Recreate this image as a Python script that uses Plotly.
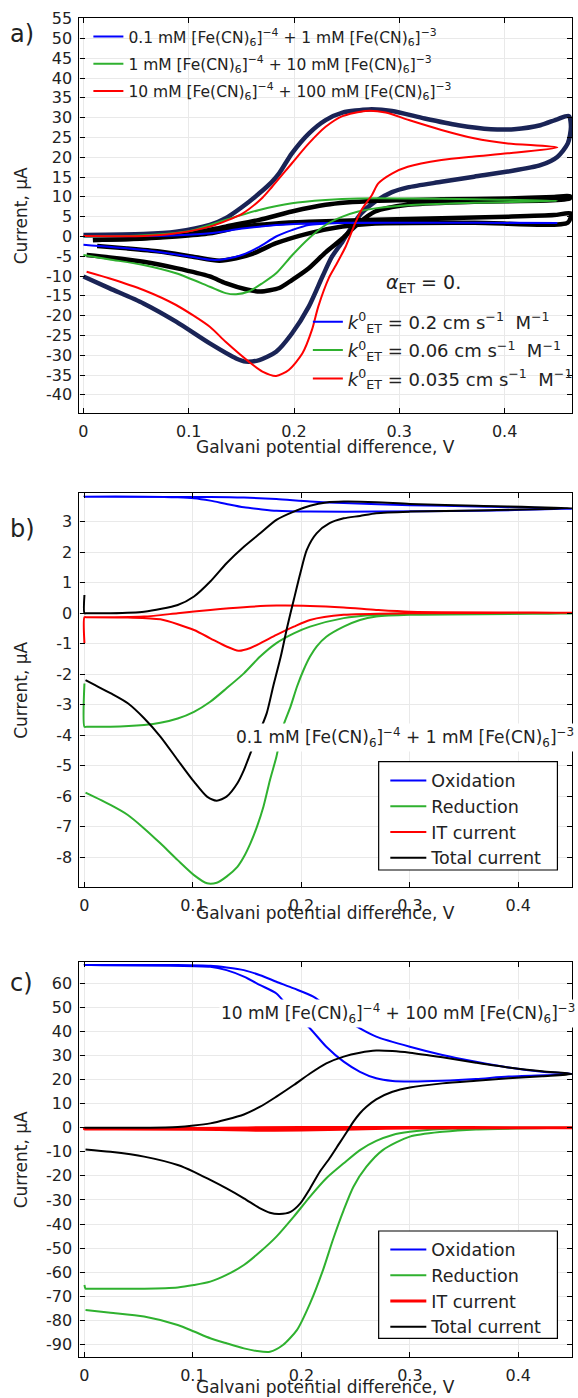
import plotly.graph_objects as go

W, H = 578, 1398
BLUE, GREEN, RED, BLACK, NAVY = '#0000ff', '#2fb12f', '#ff0000', '#000000', '#1a2456'
FONT = 'DejaVu Sans'

# ---------------- Panel a data ----------------
# experimental 10 mM (navy)
a_exp10_x = [0, 0.057, 0.088, 0.12, 0.135, 0.151, 0.167, 0.179, 0.186, 0.198, 0.214, 0.230, 0.246, 0.271, 0.293, 0.324,
             0.356, 0.387, 0.409, 0.434, 0.450, 0.461,
             0.463, 0.460, 0.450, 0.434, 0.403, 0.371, 0.340, 0.308, 0.293, 0.277, 0.264, 0.255, 0.246, 0.236, 0.227,
             0.214, 0.198, 0.183, 0.167, 0.154, 0.145, 0.120, 0.088, 0.057, 0.025, 0.0]
a_exp10_y = [0.4, 0.6, 1.2, 2.9, 4.6, 7.5, 10.9, 13.8, 16.0, 21.0, 26.0, 29.4, 31.3, 32.1, 31.7, 29.8,
             28.1, 27.1, 27.1, 28.1, 29.6, 30.4,
             27.7, 23.5, 20.1, 18.0, 16.4, 15.1, 13.8, 12.4, 11.2, 8.8, 5.9, 2.5, -1.3, -5.1, -10.1,
             -17.7, -24.5, -29.1, -31.2, -31.6, -30.8, -27.0, -21.5, -16.9, -13.1, -10.1]
# experimental 1 mM (black)
a_exp1_x = [0.009, 0.06, 0.1, 0.135, 0.167, 0.198, 0.230, 0.277, 0.34, 0.403, 0.447, 0.462,
            0.462, 0.371, 0.308, 0.277, 0.261, 0.246, 0.230, 0.214, 0.198, 0.186, 0.168, 0.155, 0.135, 0.12,
            0.088, 0.057, 0.025, 0.003]
a_exp1_y = [-0.9, -0.4, 0.6, 2.5, 4.2, 6.3, 8.0, 9.0, 9.4, 9.6, 10.0, 10.2,
            9.6, 8.8, 8.0, 6.3, 3.3, -0.5, -4.0, -8.0, -11.0, -13.0, -13.9, -13.4, -11.8, -10.1,
            -8.0, -6.4, -5.3, -4.7]
# experimental 0.1 mM (black)
a_exp01_x = [0.009, 0.057, 0.088, 0.12, 0.151, 0.183, 0.214, 0.277, 0.340, 0.403, 0.447, 0.463,
             0.46, 0.371, 0.277, 0.246, 0.214, 0.183, 0.161, 0.145, 0.129, 0.104, 0.072, 0.041, 0.013]
a_exp01_y = [-0.9, -0.5, 0.0, 0.8, 2.5, 3.3, 3.7, 4.2, 4.6, 5.0, 5.4, 5.8,
             3.5, 3.5, 3.3, 2.5, 0.8, -1.7, -4.3, -5.5, -6.1, -5.1, -3.8, -3.0, -2.4]
# simulation 10 mM (red)
a_sim10_x = [0, 0.057, 0.088, 0.12, 0.151, 0.170, 0.179, 0.198, 0.214, 0.230, 0.246, 0.268, 0.287, 0.309, 0.340,
             0.371, 0.403, 0.45,
             0.403, 0.371, 0.340, 0.308, 0.293, 0.280, 0.274, 0.264, 0.258, 0.249, 0.239, 0.233, 0.223, 0.217,
             0.208, 0.195, 0.183, 0.170, 0.157, 0.135, 0.12, 0.088, 0.057, 0.025, 0.003]
a_sim10_y = [0.1, 0.1, 0.8, 2.5, 5.8, 9.8, 12.5, 18.5, 23.5, 27.7, 30.4, 31.7, 31.3, 29.4, 26.9,
             24.8, 23.5, 22.5,
             21.0, 20.2, 19.3, 17.6, 15.9, 13.4, 10.5, 6.7, 3.3, -2.6, -7.6, -10.5, -17.7, -23.6,
             -29.5, -33.7, -35.2, -34.1, -31.6, -26.6, -22.8, -17.3, -13.5, -10.6, -8.9]
# simulation 1 mM (green)
a_sim1_x = [0, 0.05, 0.08, 0.104, 0.135, 0.167, 0.198, 0.230, 0.261, 0.308, 0.371, 0.45,
            0.371, 0.308, 0.277, 0.261, 0.246, 0.230, 0.214, 0.198, 0.183, 0.170, 0.157, 0.145, 0.135, 0.12,
            0.088, 0.057, 0.025, 0.0]
a_sim1_y = [0, 0.2, 0.7, 1.6, 4.2, 6.7, 8.4, 9.2, 9.6, 9.6, 9.4, 9.0,
            8.5, 7.9, 7.1, 6.3, 5.0, 2.9, -0.5, -4.8, -9.3, -11.8, -13.9, -14.6, -14.3, -12.7,
            -9.3, -7.2, -5.8, -4.7]
# simulation 0.1 mM (blue)
a_sim01_x = [0, 0.06, 0.09, 0.12, 0.151, 0.183, 0.214, 0.25, 0.3, 0.45,
             0.3, 0.246, 0.214, 0.198, 0.183, 0.167, 0.151, 0.135, 0.122, 0.104, 0.072, 0.041, 0.0]
a_sim01_y = [0, 0.1, 0.3, 0.8, 2.0, 2.9, 3.3, 3.45, 3.5, 3.4,
             3.5, 3.4, 2.9, 1.6, 0.0, -2.6, -4.6, -5.7, -5.9, -5.2, -3.9, -3.0, -2.1]

a_legend_names = ['0.1 mM [Fe(CN)<sub>6</sub>]<sup>\u22124</sup> + 1 mM [Fe(CN)<sub>6</sub>]<sup>\u22123</sup>',
                  '1 mM [Fe(CN)<sub>6</sub>]<sup>\u22124</sup> + 10 mM [Fe(CN)<sub>6</sub>]<sup>\u22123</sup>',
                  '10 mM [Fe(CN)<sub>6</sub>]<sup>\u22124</sup> + 100 mM [Fe(CN)<sub>6</sub>]<sup>\u22123</sup>']
k_names = ['<i>k</i><sup>0</sup><sub>ET</sub> = 0.2 cm s<sup>\u22121</sup>  M<sup>\u22121</sup>',
           '<i>k</i><sup>0</sup><sub>ET</sub> = 0.06 cm s<sup>\u22121</sup>  M<sup>\u22121</sup>',
           '<i>k</i><sup>0</sup><sub>ET</sub> = 0.035 cm s<sup>\u22121</sup>  M<sup>\u22121</sup>']

# ---------------- Panel b data ----------------
b_ox_x = [0, 0.055, 0.086, 0.101, 0.116, 0.131, 0.147, 0.162, 0.177, 0.208, 0.269, 0.361, 0.45,
          0.361, 0.300, 0.239, 0.208, 0.177, 0.147, 0.116, 0.0]
b_ox_y = [3.82, 3.82, 3.80, 3.77, 3.69, 3.58, 3.47, 3.41, 3.36, 3.33, 3.33, 3.36, 3.42,
          3.50, 3.54, 3.61, 3.66, 3.74, 3.79, 3.81, 3.82]
b_red_x = [0, 0, 0.002, 0.024, 0.055, 0.070, 0.086, 0.101, 0.116, 0.131, 0.147, 0.162, 0.177, 0.193, 0.208, 0.239,
           0.269, 0.300, 0.45,
           0.300, 0.269, 0.254, 0.239, 0.223, 0.214, 0.208, 0.202, 0.196, 0.190, 0.183, 0.177, 0.171, 0.165, 0.159,
           0.153, 0.147, 0.141, 0.131, 0.122, 0.113, 0.101, 0.086, 0.070, 0.055, 0.040, 0.024, 0.001]
b_red_y = [-2.3, -3.72, -3.72, -3.72, -3.66, -3.59, -3.45, -3.23, -2.9, -2.46, -1.97, -1.42, -0.98, -0.66, -0.44, -0.16,
           -0.05, 0, -0.01,
           -0.05, -0.11, -0.22, -0.44, -0.77, -1.09, -1.42, -1.86, -2.4, -3.06, -3.72, -4.7, -5.47, -6.34, -7.0,
           -7.54, -7.98, -8.31, -8.63, -8.83, -8.85, -8.58, -8.09, -7.54, -7.05, -6.61, -6.28, -5.88]
b_it_x = [0, 0, 0.002, 0.024, 0.055, 0.086, 0.116, 0.147, 0.177, 0.208, 0.239, 0.269, 0.300, 0.45,
          0.300, 0.239, 0.208, 0.193, 0.177, 0.165, 0.153, 0.142, 0.131, 0.116, 0.101, 0.070, 0.040, 0.001]
b_it_y = [-0.98, -0.13, -0.13, -0.13, -0.11, 0, 0.11, 0.2, 0.25, 0.24, 0.19, 0.11, 0.05, 0.02,
          0.0, -0.05, -0.22, -0.44, -0.71, -0.93, -1.14, -1.23, -1.09, -0.82, -0.55, -0.2, -0.14, -0.13]
b_tot_x = [0, 0, 0.002, 0.024, 0.055, 0.086, 0.101, 0.116, 0.131, 0.147, 0.162, 0.177, 0.193, 0.208, 0.223, 0.239,
           0.269, 0.300, 0.361, 0.45,
           0.361, 0.300, 0.269, 0.254, 0.239, 0.226, 0.214, 0.205, 0.199, 0.193, 0.187, 0.181, 0.174, 0.168, 0.160,
           0.153, 0.147, 0.141, 0.131, 0.122, 0.113, 0.101, 0.086, 0.070, 0.055, 0.040, 0.024, 0.001]
b_tot_y = [0.6, 0, 0, 0, 0.05, 0.27, 0.55, 1.04, 1.64, 2.18, 2.62, 3.06, 3.33, 3.52, 3.63, 3.66,
           3.64, 3.58, 3.52, 3.44,
           3.37, 3.33, 3.28, 3.19, 3.11, 2.95, 2.62, 2.08, 1.31, 0.44, -0.44, -1.42, -2.4, -3.28, -4.0,
           -4.59, -5.14, -5.57, -6.01, -6.14, -6.01, -5.52, -4.81, -4.04, -3.44, -2.95, -2.62, -2.19]

# ---------------- Panel c data ----------------
c_ox_x = [0, 0.086, 0.116, 0.131, 0.147, 0.162, 0.177, 0.193, 0.211, 0.232, 0.254, 0.269, 0.300, 0.330, 0.361, 0.391,
          0.422, 0.45,
          0.391, 0.361, 0.330, 0.300, 0.284, 0.269, 0.254, 0.239, 0.223, 0.208, 0.19, 0.177, 0.162, 0.147, 0.131,
          0.116, 0.0]
c_ox_y = [67.5, 67.5, 67.2, 66.5, 65.4, 63.3, 60.6, 57.8, 54.4, 47.5, 41.2, 37.8, 33.6, 30.2, 27.4, 25.0,
          23.2, 22.3,
          21.2, 20.2, 19.5, 19.2, 19.4, 20.5, 23.2, 27.4, 33.6, 41.2, 49.0, 55.7, 59.2, 62.7, 65.4,
          66.8, 67.5]
c_red_x = [0, 0.001, 0.004, 0.055, 0.086, 0.101, 0.116, 0.131, 0.147, 0.162, 0.177, 0.193, 0.208, 0.223, 0.239, 0.254,
           0.269, 0.284, 0.3, 0.33, 0.361, 0.45,
           0.361, 0.33, 0.3, 0.275, 0.260, 0.248, 0.239, 0.229, 0.220, 0.208, 0.196, 0.183, 0.171, 0.159, 0.147,
           0.131, 0.116, 0.101, 0.086, 0.055, 0.024, 0.001]
c_red_y = [-65.3, -66.8, -66.8, -66.8, -66.3, -65.3, -63.9, -61.1, -57.0, -51.5, -45.2, -36.9, -28.6, -21.0, -14.8,
           -9.3, -5.5, -3.0, -1.7, -0.5, -0.1, 0,
           -0.7, -1.7, -3.7, -9.3, -16.2, -24.5, -34.2, -46.6, -59.0, -72.9, -83.9, -90.2, -93.0, -92.7, -91.6,
           -89.5, -87.4, -84.6, -81.9, -78.4, -76.8, -75.7]
c_it_x = [0, 0.1, 0.2, 0.3, 0.45, 0.3, 0.25, 0.2, 0.15, 0.1, 0.0]
c_it_y = [-0.5, -0.3, 0.1, 0.05, 0, -0.1, -0.5, -1.0, -1.0, -0.6, -0.5]
c_tot_x = [0, 0.055, 0.086, 0.101, 0.116, 0.131, 0.147, 0.162, 0.177, 0.193, 0.208, 0.223, 0.239, 0.254, 0.269, 0.284,
           0.3, 0.33, 0.361, 0.391, 0.422, 0.45,
           0.422, 0.391, 0.361, 0.33, 0.3, 0.284, 0.269, 0.260, 0.254, 0.248, 0.242, 0.235, 0.226, 0.217, 0.208,
           0.199, 0.190, 0.180, 0.171, 0.162, 0.147, 0.131, 0.116, 0.101, 0.086, 0.055, 0.024, 0.001]
c_tot_y = [0, 0, 0.3, 0.9, 1.8, 3.4, 5.5, 8.7, 12.9, 17.7, 22.5, 26.7, 29.5, 31.1, 32.0, 31.8,
           31.1, 29.2, 27.0, 25.0, 23.4, 22.3,
           21.4, 20.5, 19.5, 18.4, 16.7, 14.9, 11.8, 8.7, 6.0, 2.5, -1.7, -6.5, -12.7, -18.3, -25.2,
           -31.4, -34.9, -35.8, -35.3, -33.5, -29.3, -25.2, -21.7, -18.3, -15.5, -12.0, -10.0, -9.0]

bc_names = ['Oxidation', 'Reduction', 'IT current', 'Total current']

# ticks
x_tickvals = [0, 0.1, 0.2, 0.3, 0.4]
x_ticktext = ['0', '0.1', '0.2', '0.3', '0.4']
a_tickvals = [-40, -35, -30, -25, -20, -15, -10, -5, 0, 5, 10, 15, 20, 25, 30, 35, 40, 45, 50, 55]
a_ticktext = ['-40', '-35', '-30', '-25', '-20', '-15', '-10', '-5', '0', '5', '10', '15', '20', '25', '30',
              '35', '40', '45', '50', '55']
b_tickvals = [-8, -7, -6, -5, -4, -3, -2, -1, 0, 1, 2, 3]
b_ticktext = ['-8', '-7', '-6', '-5', '-4', '-3', '-2', '-1', '0', '1', '2', '3']
c_tickvals = [-90, -80, -70, -60, -50, -40, -30, -20, -10, 0, 10, 20, 30, 40, 50, 60]
c_ticktext = ['-90', '-80', '-70', '-60', '-50', '-40', '-30', '-20', '-10', '0', '10', '20', '30', '40', '50', '60']


def px(xp):
    return xp / W


def py(yp):
    return 1 - yp / H


fig = go.Figure()


def add(x, y, color, width, xa, ya, name=None, legend=None, group=None, show=False):
    fig.add_trace(go.Scatter(x=x, y=y, mode='lines', line=dict(color=color, width=width, shape='spline', smoothing=0.7),
                             xaxis=xa, yaxis=ya, name=name, showlegend=show,
                             legend=legend if legend else 'legend', legendgroup=group, hoverinfo='skip'))


# panel a: experimental first
add(a_exp10_x, a_exp10_y, NAVY, 4.5, 'x', 'y')
add(a_exp1_x, a_exp1_y, BLACK, 4.5, 'x', 'y')
add(a_exp01_x, a_exp01_y, BLACK, 4.5, 'x', 'y')
add(a_sim01_x, a_sim01_y, BLUE, 2, 'x', 'y', a_legend_names[0], 'legend', 'c1', True)
add(a_sim1_x, a_sim1_y, GREEN, 2, 'x', 'y', a_legend_names[1], 'legend', 'c2', True)
add(a_sim10_x, a_sim10_y, RED, 2, 'x', 'y', a_legend_names[2], 'legend', 'c3', True)
for nm, col, g in zip(k_names, [BLUE, GREEN, RED], ['k1', 'k2', 'k3']):
    fig.add_trace(go.Scatter(x=[None], y=[None], mode='lines', line=dict(color=col, width=2), name=nm,
                             xaxis='x', yaxis='y', legend='legend2', legendgroup=g, showlegend=True))

# panel b
add(b_ox_x, b_ox_y, BLUE, 2, 'x2', 'y2', bc_names[0], 'legend3', None, True)
add(b_red_x, b_red_y, GREEN, 2, 'x2', 'y2', bc_names[1], 'legend3', None, True)
add(b_it_x, b_it_y, RED, 2, 'x2', 'y2', bc_names[2], 'legend3', None, True)
add(b_tot_x, b_tot_y, BLACK, 2, 'x2', 'y2', bc_names[3], 'legend3', None, True)
# panel c
add(c_ox_x, c_ox_y, BLUE, 2, 'x3', 'y3', bc_names[0], 'legend4', None, True)
add(c_red_x, c_red_y, GREEN, 2, 'x3', 'y3', bc_names[1], 'legend4', None, True)
add(c_it_x, c_it_y, RED, 3, 'x3', 'y3', bc_names[2], 'legend4', None, True)
add(c_tot_x, c_tot_y, BLACK, 2, 'x3', 'y3', bc_names[3], 'legend4', None, True)

xdom = [px(80), px(576)]
common = dict(showline=True, linecolor='black', linewidth=1.2, mirror='ticks', ticks='inside', ticklen=5,
              tickcolor='black', showgrid=True, gridcolor='#e9e9e9', gridwidth=1, zeroline=False,
              tickfont=dict(family=FONT, size=16, color='#222'), automargin=False, ticklabelstandoff=3)

fig.update_layout(
    width=W, height=H, margin=dict(l=0, r=0, t=0, b=0), paper_bgcolor='white', plot_bgcolor='white',
    font=dict(family=FONT, color='#222'),
    xaxis=dict(domain=xdom, range=[-0.0038, 0.464], anchor='y', tickvals=x_tickvals, ticktext=x_ticktext, **common),
    yaxis=dict(domain=[py(413.3), py(18.3)], range=[-44.65, 55.1], anchor='x', tickvals=a_tickvals,
               ticktext=a_ticktext, **common),
    xaxis2=dict(domain=xdom, range=[-0.0046, 0.4495], anchor='y2', tickvals=x_tickvals, ticktext=x_ticktext, **common),
    yaxis2=dict(domain=[py(887.3), py(492.7)], range=[-8.98, 3.95], anchor='x2', tickvals=b_tickvals,
                ticktext=b_ticktext, **common),
    xaxis3=dict(domain=xdom, range=[-0.0046, 0.4495], anchor='y3', tickvals=x_tickvals, ticktext=x_ticktext, **common),
    yaxis3=dict(domain=[py(1357.3), py(961.7)], range=[-95.3, 68.9], anchor='x3', tickvals=c_tickvals,
                ticktext=c_ticktext, **common),
    legend=dict(x=px(89), y=py(20), xanchor='left', yanchor='top', bgcolor='rgba(0,0,0,0)', borderwidth=0,
                font=dict(family=FONT, size=15.5, color='#222'), tracegroupgap=4, itemwidth=30),
    legend2=dict(x=px(310), y=py(303.5), xanchor='left', yanchor='top', bgcolor='rgba(0,0,0,0)', borderwidth=0,
                 font=dict(family=FONT, size=18, color='#222'), tracegroupgap=2, itemwidth=30),
    legend3=dict(x=px(388), y=py(762.5), xanchor='left', yanchor='top', bgcolor='rgba(0,0,0,0)', borderwidth=0,
                 font=dict(family=FONT, size=17.5, color='#222'), itemwidth=36),
    legend4=dict(x=px(388), y=py(1231.5), xanchor='left', yanchor='top', bgcolor='rgba(0,0,0,0)', borderwidth=0,
                 font=dict(family=FONT, size=17.5, color='#222'), itemwidth=36),
)

# legend frames for panels b and c
shapes = []
for top, bot in [(761.7, 870), (1231, 1338.3)]:
    shapes.append(dict(type='rect', xref='paper', yref='paper', x0=px(381.3), x1=px(561.3), y0=py(bot), y1=py(top),
                       fillcolor='white', line=dict(color='black', width=1.2), layer='above'))
fig.update_layout(shapes=shapes)

ann = []
for lab, yy in [('a)', 34), ('b)', 529), ('c)', 983)]:
    ann.append(dict(text=lab, x=px(8), y=py(yy), xref='paper', yref='paper', xanchor='left', yanchor='middle',
                    showarrow=False, font=dict(family=FONT, size=24, color='#222')))
for yy in [215.5, 690, 1159.5]:
    ann.append(dict(text='Current, \u03bcA', x=px(21), y=py(yy), xref='paper', yref='paper', xanchor='center',
                    yanchor='middle', textangle=-90, showarrow=False, font=dict(family=FONT, size=17, color='#222')))
for yy in [447, 913, 1387]:
    ann.append(dict(text='Galvani potential difference, V', x=px(328), y=py(yy), xref='paper', yref='paper',
                    xanchor='center', yanchor='middle', showarrow=False, font=dict(family=FONT, size=17, color='#222')))
ann.append(dict(text='<i>\u03b1</i><sub>ET</sub> = 0.', x=px(387), y=py(283), xref='paper', yref='paper',
                xanchor='left', yanchor='middle', showarrow=False, font=dict(family=FONT, size=19, color='#222')))
ann.append(dict(text='0.1 mM [Fe(CN)<sub>6</sub>]<sup>\u22124</sup> + 1 mM [Fe(CN)<sub>6</sub>]<sup>\u22123</sup>',
                x=px(236), y=py(737), xref='paper', yref='paper', xanchor='left', yanchor='middle', showarrow=False,
                bgcolor='white', font=dict(family=FONT, size=17, color='#222')))
ann.append(dict(text='10 mM [Fe(CN)<sub>6</sub>]<sup>\u22124</sup> + 100 mM [Fe(CN)<sub>6</sub>]<sup>\u22123</sup>',
                x=px(221), y=py(1013), xref='paper', yref='paper', xanchor='left', yanchor='middle', showarrow=False,
                bgcolor='white', font=dict(family=FONT, size=17, color='#222')))
fig.update_layout(annotations=ann)

fig.write_html('out.html', config={'displayModeBar': False},
               post_script="document.body.style.margin='0px';document.body.style.padding='0px';")
